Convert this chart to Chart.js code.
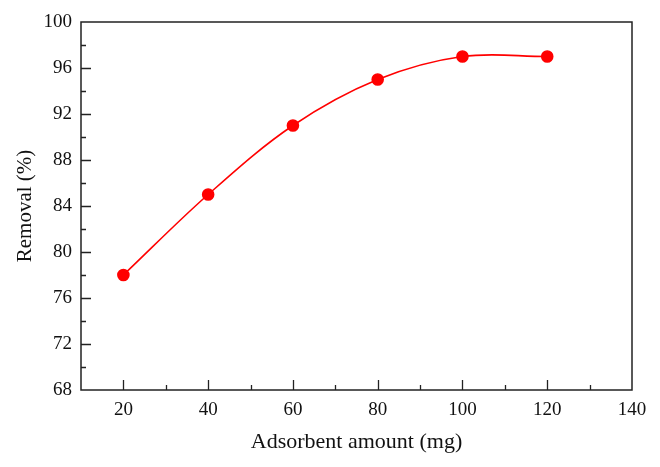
<!DOCTYPE html>
<html>
<head>
<meta charset="utf-8">
<script src="https://cdn.jsdelivr.net/npm/chart.js@4"></script>
<style>
  body { margin: 0; background: #fff; }
  #wrap { width: 660px; height: 467px; }
</style>
</head>
<body>
<div id="wrap"><canvas id="chart" width="660" height="467"></canvas></div>
<script>
const amounts = [20, 40, 60, 80, 100, 120];
const removal = [78, 85, 91, 95, 97, 97];
const yTicks = [68, 72, 76, 80, 84, 88, 92, 96, 100];
const xTicks = [20, 40, 60, 80, 100, 120, 140];

const family = '"Liberation Serif", "DejaVu Serif", serif';

// frame and inward ticks, like the original plot
const frame = {
  id: 'frame',
  afterDraw(chart) {
    const { ctx, chartArea: a, scales: { x, y } } = chart;
    ctx.save();
    ctx.strokeStyle = '#222';
    ctx.lineWidth = 1.5;
    ctx.strokeRect(a.left, a.top, a.right - a.left, a.bottom - a.top);
    ctx.lineWidth = 1.3;
    ctx.beginPath();
    for (let v = 70; v < 100; v += 2) {
      const py = Math.round(y.getPixelForValue(v)) + 0.5;
      const len = yTicks.includes(v) ? 10 : 5;
      ctx.moveTo(a.left, py);
      ctx.lineTo(a.left + len, py);
    }
    for (let v = 20; v < 140; v += 10) {
      const px = Math.round(x.getPixelForValue(v)) + 0.5;
      const len = xTicks.includes(v) ? 10 : 5;
      ctx.moveTo(px, a.bottom);
      ctx.lineTo(px, a.bottom - len);
    }
    ctx.stroke();
    ctx.restore();
  }
};

new Chart(document.getElementById('chart'), {
  type: 'line',
  data: {
    datasets: [{
      data: amounts.map((a, i) => ({ x: a, y: removal[i] })),
      borderColor: '#ff0000',
      backgroundColor: '#ff0000',
      borderWidth: 1.6,
      pointRadius: 5.5,
      pointHoverRadius: 5.5,
      tension: 0.35
    }]
  },
  options: {
    responsive: false,
    animation: false,
    layout: { padding: { top: 22, right: 28, left: 0, bottom: 0 } },
    plugins: { legend: { display: false }, tooltip: { enabled: false } },
    scales: {
      x: {
        type: 'linear',
        min: 10,
        max: 140,
        grid: { display: false, drawTicks: false },
        border: { display: false },
        ticks: {
          stepSize: 20,
          color: '#111',
          font: { family, size: 19 },
          padding: 9,
          maxRotation: 0,
          callback: v => xTicks.includes(v) ? v : ''
        },
        title: {
          display: true, text: 'Adsorbent amount (mg)', color: '#111',
          font: { family, size: 22 }, padding: { top: 6, bottom: 12 }
        },
        afterFit: s => { s.height = 77; }
      },
      y: {
        min: 68,
        max: 100,
        grid: { display: false, drawTicks: false },
        border: { display: false },
        ticks: { stepSize: 4, color: '#111', font: { family, size: 19 }, padding: 9 },
        title: {
          display: true, text: 'Removal (%)', color: '#111',
          font: { family, size: 21 }, padding: { top: 13, bottom: 0 }
        },
        afterFit: s => { s.width = 81; }
      }
    }
  },
  plugins: [frame]
});
</script>
</body>
</html>
